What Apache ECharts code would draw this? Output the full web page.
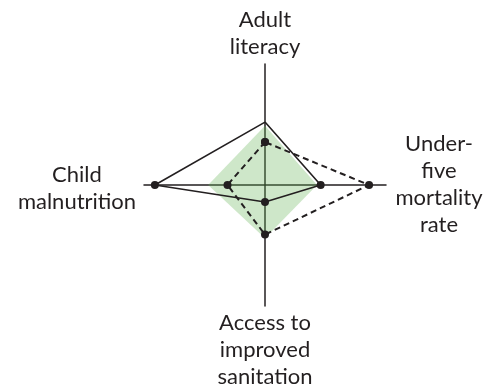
<!DOCTYPE html>
<html>
<head>
<meta charset="utf-8">
<script src="https://cdn.jsdelivr.net/npm/echarts@6/dist/echarts.min.js"></script>
<style>
  html, body { margin: 0; padding: 0; background: #fff; }
  #chart { width: 489px; height: 390px; }
</style>
</head>
<body>
<div id="chart"></div>
<script>
// axes in radar order (counter-clockwise from top)
const axes = ['Adult literacy', 'Child malnutrition', 'Access to improved sanitation', 'Under-five mortality rate'];
const benchmark = [0.49, 0.47, 0.44, 0.43];   // green area
const solidVals = [0.52, 0.91, 0.14, 0.46];
const dashedVals = [0.355, 0.31, 0.41, 0.86];
// dots of the solid line: the top vertex has none, so its dot sits on the dashed one
const solidDots = [dashedVals[0], solidVals[1], solidVals[2], solidVals[3]];

const chart = echarts.init(document.getElementById('chart'));
const font = 'Lato, "Open Sans", sans-serif';
const label = (text, x, y) => ({
  type: 'text', x: x, y: y,
  style: { text: text, font: '22px ' + font, fill: '#231f20', textAlign: 'center', textVerticalAlign: 'middle', lineHeight: 27 }
});

chart.setOption({
  animation: false,
  radar: {
    center: [265, 185],
    radius: 121,
    startAngle: 90,
    splitNumber: 1,
    indicator: axes.map(n => ({ name: n, min: 0, max: 1 })),
    axisName: { show: false },
    axisLine: { lineStyle: { color: '#231f20', width: 1.5 } },
    splitLine: { show: false },
    splitArea: { show: false },
    axisTick: { show: false },
    axisLabel: { show: false }
  },
  series: [
    {
      // translucent so the axis lines still show through
      type: 'radar', silent: true,
      symbol: 'none',
      lineStyle: { width: 0, opacity: 0 },
      areaStyle: { color: 'rgb(104,180,88)', opacity: 0.32 },
      data: [{ value: benchmark }]
    },
    {
      type: 'radar', z: 4, silent: true,
      symbol: 'none',
      lineStyle: { color: '#231f20', width: 1.6, type: 'solid' },
      data: [{ value: solidVals }]
    },
    {
      type: 'radar', z: 5, silent: true,
      symbol: 'circle', symbolSize: 8,
      itemStyle: { color: '#231f20' },
      lineStyle: { opacity: 0, width: 0 },
      data: [{ value: solidDots }]
    },
    {
      type: 'radar', z: 5, silent: true,
      symbol: 'circle', symbolSize: 8,
      itemStyle: { color: '#231f20' },
      lineStyle: { color: '#231f20', width: 2, type: [6, 4] },
      data: [{ value: dashedVals }]
    }
  ],
  graphic: [
    label('Adult\nliteracy', 265, 33),
    label('Child\nmalnutrition', 77, 188),
    label('Under-\nfive\nmortality\nrate', 439, 184),
    label('Access to\nimproved\nsanitation', 265, 350)
  ]
});
</script>
</body>
</html>
